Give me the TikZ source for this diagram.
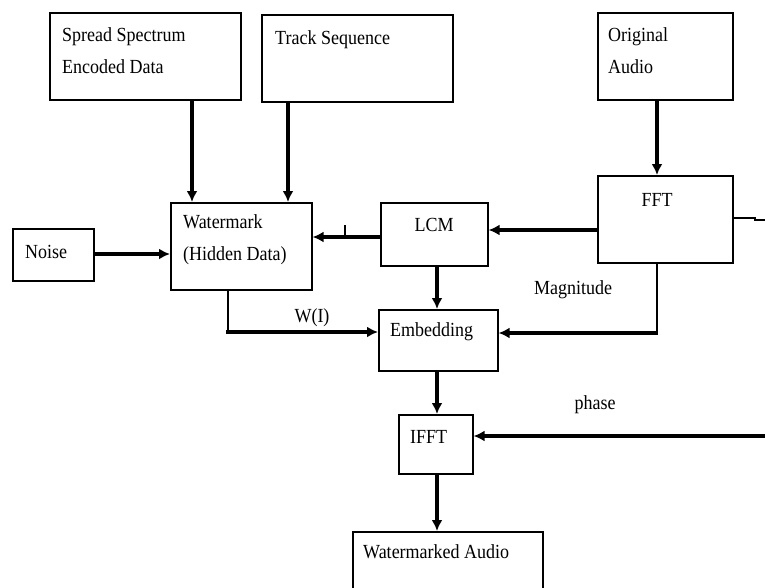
\documentclass[tikz,border=0pt]{standalone}
\usepackage{fontspec}
\setmainfont[FakeStretch=0.9]{Liberation Serif}
\usetikzlibrary{arrows.meta}
\begin{document}
\begin{tikzpicture}[x=1pt,y=-1pt,
  box/.style={draw,line width=1.6pt,anchor=north west,inner sep=0pt},
  txt/.style={anchor=west,inner sep=0pt,align=left,font=\fontsize{20}{32}\selectfont},
  ctxt/.style={anchor=center,inner sep=0pt,font=\fontsize{20}{32}\selectfont},
  arr/.style={line width=3.2pt,-{Latex[length=11pt,width=11pt]}},
  thinl/.style={line width=1.6pt}]
\useasboundingbox (0,0) rectangle (765,587);
\clip (0,0) rectangle (765,587);
% boxes
\node[box,minimum width=191pt,minimum height=87pt] (ss) at (49,12) {};
\node[box,minimum width=191pt,minimum height=87pt] (ts) at (261,14) {};
\node[box,minimum width=135pt,minimum height=87pt] (oa) at (597,12) {};
\node[box,minimum width=135pt,minimum height=87pt] (fft) at (597,175) {};
\node[box,minimum width=107pt,minimum height=63pt] (lcm) at (380,202) {};
\node[box,minimum width=141pt,minimum height=87pt] (wm) at (170,202) {};
\node[box,minimum width=81pt,minimum height=52pt] (noise) at (12,228) {};
\node[box,minimum width=119pt,minimum height=61pt] (emb) at (378,309) {};
\node[box,minimum width=74pt,minimum height=59pt] (ifft) at (398,414) {};
\node[box,minimum width=190pt,minimum height=90pt] (wa) at (352,531) {};
% texts
\node[txt] (tss) at (62,51) {Spread Spectrum\\Encoded Data};
\node[txt] (tts) at (275,40) {Track Sequence};
\node[txt] (toa) at (608,51) {Original\\Audio};
\node[ctxt] (tfft) at (657,200) {FFT};
\node[ctxt] (tlcm) at (434,225) {LCM};
\node[txt] (twm) at (183,240) {Watermark\\(Hidden Data)};
\node[txt] (tno) at (25,252) {Noise};
\node[txt] (temb) at (390,332) {Embedding};
\node[txt] (tifft) at (410,437) {IFFT};
\node[txt] (twa) at (363,552) {Watermarked Audio};
% edge labels
\node[ctxt] (lw) at (312,318) {W(I)};
\node[ctxt] (lmag) at (573,290) {Magnitude};
\node[ctxt] (lph) at (595,405) {phase};
% connectors
\draw[arr] (ss.south -| 192,0) -- (wm.north -| 192,0);
\draw[arr] (ts.south -| 288,0) -- (wm.north -| 288,0);
\draw[arr] (oa.south -| 657,0) -- (fft.north -| 657,0);
\draw[arr] (fft.west |- 0,230) -- (lcm.east |- 0,230);
\draw[arr] (lcm.west |- 0,237) -- (wm.east |- 0,237);
\draw[arr] (noise.east |- 0,254) -- (wm.west |- 0,254);
\draw[thinl] (wm.south -| 228,0) -- (228,332);
\draw[arr] (226.4,332) -- (emb.west |- 0,332);
\draw[arr] (lcm.south -| 437,0) -- (emb.north -| 437,0);
\draw[thinl] (fft.south -| 657,0) -- (657,333);
\draw[arr] (657.8,333) -- (emb.east |- 0,333);
\draw[arr] (emb.south -| 437,0) -- (ifft.north -| 437,0);
\coordinate (phin) at (770,436);
\draw[arr] (phin) -- (ifft.east |- 0,436);
\coordinate (fftout) at (770,220);
\draw[thinl] (fft.east |- 0,218) -- (755,218) -- (755,220) -- (fftout);
\draw[arr] (ifft.south -| 437,0) -- (wa.north -| 437,0);
\coordinate (tk1) at (345,225);
\coordinate (tk2) at (345,236);
\draw[line width=1.2pt] (tk1) -- (tk2);
\end{tikzpicture}
\end{document}
